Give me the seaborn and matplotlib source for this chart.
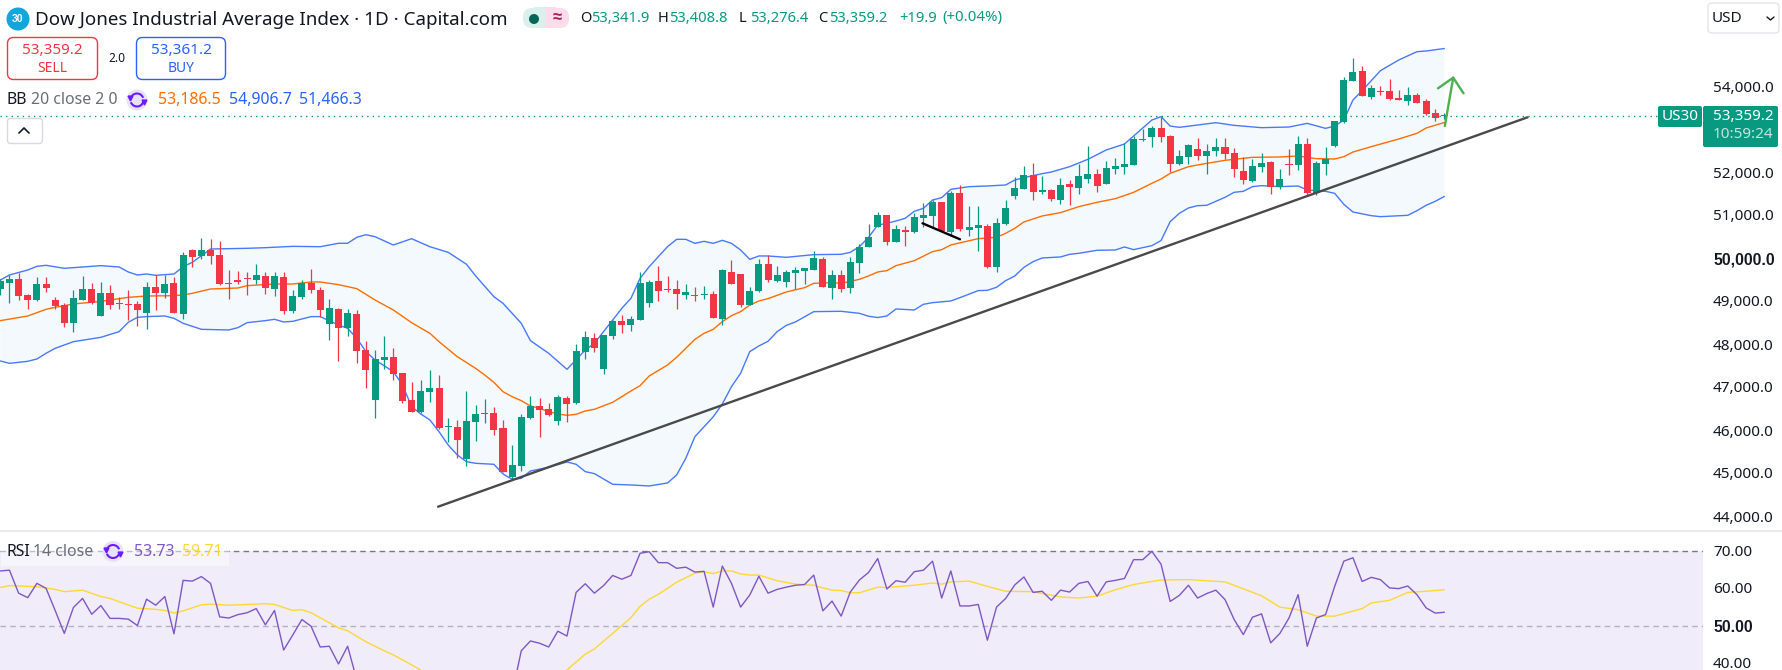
import numpy as np
import matplotlib
matplotlib.use("Agg")
import matplotlib.pyplot as plt
from matplotlib.patches import Circle, FancyBboxPatch, Rectangle, Arc
import seaborn as sns

# daily bars, values
opens = [49314, 49454, 49547, 49175, 49058, 49430, 49058, 48942, 48523, 49058,
         49314, 48686, 49221, 48989, 48965, 48965, 48756, 49361, 49221, 49454,
         48733, 50221, 50082, 50221, 50105, 49454, 49523, 49570, 49523, 49617,
         49314, 49593, 48803, 49128, 49454, 49291, 48500, 48849, 48407, 48733,
         47896, 46733, 47663, 47733, 47360, 46733, 46454, 46919, 47012, 46112,
         46105, 45360, 46221, 46415, 46430, 46081, 44942, 45198, 46314, 46593,
         46523, 46244, 46779, 46663, 47849, 48175, 47454, 48221, 48570, 48477,
         48593, 48989, 49500, 49314, 49314, 49175, 49175, 49175, 49198, 48617,
         49710, 49663, 48942, 49268, 49896, 49500, 49477, 49686, 49733, 49756,
         50012, 49338, 49640, 49338, 49919, 50291, 50756, 51035, 50407, 50686,
         50640, 50966, 51012, 51338, 50640, 51547, 50686, 50733, 50780, 49826,
         50826, 51477, 51640, 51966, 51570, 51617, 51384, 51756, 51663, 51873,
         51989, 51756, 52105, 52152, 52198, 52779, 52856, 53058, 52872, 52221,
         52384, 52570, 52407, 52523, 52616, 52477, 52058, 51825, 52151, 52267,
         51686, 52221, 52198, 52686, 51546, 52221, 52639, 53198, 54151, 54384,
         53779, 53918, 53918, 53748, 53686, 53825, 53686, 53407, 53342]
highs = [49540, 49632, 49694, 49198, 49586, 49586, 49120, 48981, 49291, 49617,
         49454, 49477, 49407, 49120, 49291, 49035, 49477, 49640, 49640, 49593,
         50175, 50244, 50500, 50477, 50430, 49756, 49733, 49710, 49896, 49710,
         49710, 49710, 49291, 49523, 49780, 49361, 49082, 48872, 48849, 48826,
         48105, 47896, 48221, 47942, 47360, 47151, 47198, 47430, 47314, 46314,
         46268, 46942, 46616, 46756, 46570, 46268, 45686, 46407, 46826, 46779,
         46663, 46849, 46826, 48035, 48337, 48291, 48245, 48593, 48710, 48686,
         49710, 49524, 49849, 49617, 49524, 49431, 49361, 49384, 49268, 49779,
         49989, 49663, 49361, 50012, 50105, 49849, 49756, 49826, 49803, 50198,
         50059, 49756, 49756, 50059, 50361, 50826, 51105, 51035, 50803, 50780,
         51082, 51314, 51384, 51338, 51594, 51733, 51245, 51245, 50826, 50966,
         51384, 51919, 52175, 52245, 51942, 51640, 51896, 51849, 52221, 52640,
         52105, 52291, 52361, 52702, 52873, 53028, 53105, 53322, 52895, 52546,
         52686, 52825, 52686, 52825, 52825, 52593, 52384, 52337, 52477, 52291,
         52105, 52570, 52872, 52825, 52291, 52616, 53221, 54244, 54686, 54500,
         54058, 54035, 54198, 53942, 54012, 53872, 53732, 53500, 53409]
lows = [49175, 48996, 49058, 48849, 49035, 49244, 48849, 48430, 48314, 49058,
        48965, 48686, 48849, 48849, 48593, 48454, 48384, 48826, 49105, 48756,
        48616, 49826, 50012, 49896, 49407, 49082, 49430, 49175, 49430, 49198,
        49151, 48733, 48756, 49082, 49221, 48663, 48128, 47640, 48221, 47593,
        47012, 46314, 47454, 47198, 46663, 46454, 46430, 46686, 46058, 45756,
        45384, 45198, 45779, 46198, 45919, 45058, 44895, 45081, 46291, 45872,
        46360, 46151, 46221, 46640, 47686, 47849, 47338, 48151, 48291, 48338,
        48593, 48896, 49035, 49245, 48849, 49082, 49035, 49082, 48640, 48477,
        49431, 48896, 48942, 49245, 49477, 49477, 49361, 49314, 49431, 49756,
        49361, 49082, 49245, 49221, 49686, 50291, 50756, 50338, 50407, 50314,
        50617, 50756, 50756, 50663, 50570, 50663, 50547, 50198, 49803, 49710,
        50803, 51407, 51640, 51384, 51524, 51361, 51291, 51268, 51524, 51780,
        51570, 51756, 51989, 51989, 52198, 52763, 52623, 52732, 52035, 52198,
        52221, 52314, 51988, 52407, 52337, 51918, 51756, 51802, 52035, 51523,
        51639, 51965, 52081, 51477, 51500, 51965, 52616, 53174, 54151, 53802,
        53732, 53825, 53709, 53717, 53593, 53639, 53360, 53221, 53276]
closes = [49500, 49547, 49151, 49058, 49430, 49337, 48919, 48523, 49105, 49314,
          48989, 49221, 48942, 48973, 48950, 48826, 49361, 49221, 49430, 48756,
          50105, 50058, 50221, 50082, 49430, 49438, 49477, 49555, 49640, 49337,
          49617, 48803, 49151, 49454, 49291, 48826, 48872, 48407, 48756, 47872,
          47430, 47686, 47733, 47337, 46709, 46454, 46942, 47012, 46081, 46128,
          45802, 46244, 46407, 46430, 46035, 45058, 45221, 46337, 46593, 46500,
          46384, 46802, 46640, 47872, 48198, 47942, 48245, 48570, 48477, 48617,
          49454, 49477, 49268, 49299, 49198, 49245, 49151, 49198, 48640, 49756,
          49431, 48942, 49268, 49896, 49524, 49640, 49710, 49756, 49803, 50035,
          49361, 49640, 49314, 49942, 50291, 50524, 51035, 50407, 50710, 50640,
          50989, 51035, 51338, 50663, 51547, 50710, 50756, 50803, 49826, 50849,
          51198, 51663, 51966, 51570, 51617, 51407, 51733, 51687, 51942, 51989,
          51710, 52128, 52175, 52221, 52795, 52795, 53058, 52849, 52221, 52407,
          52663, 52407, 52523, 52616, 52453, 52105, 51849, 52174, 52244, 51686,
          51872, 52205, 52686, 51546, 52244, 52337, 53221, 54174, 54360, 53802,
          53988, 53903, 53732, 53717, 53825, 53639, 53384, 53291, 53359]

# bollinger bands, bar number and value at each corner of the line
upper_idx = [0, 1, 3, 4, 5, 7, 9, 11, 13, 14, 15, 16, 17, 19, 20, 21, 22, 23, 25, 27, 29, 32, 35, 37, 38, 39, 40, 41,
             43, 45, 47, 49, 51, 52, 54, 55, 57, 58, 60, 62, 64, 65, 67, 68, 69, 70, 71, 73, 74, 75, 76, 77, 78, 79,
             80, 81, 82, 83, 84, 86, 89, 92, 93, 94, 95, 96, 97, 98, 99, 100, 101, 102, 103, 104, 106, 108, 110, 111,
             112, 114, 115, 117, 119, 121, 123, 124, 126, 127, 128, 129, 133, 135, 138, 141, 143, 145, 146, 147, 148,
             149, 151, 153, 155, 156, 158]
upper_val = [49523, 49640, 49756, 49841, 49865, 49795, 49826, 49857, 49826, 49710, 49640, 49663, 49632, 49663, 49833,
             49934, 50089, 50244, 50252, 50260, 50275, 50306, 50298, 50377, 50377, 50516, 50577, 50530, 50337, 50484,
             50298, 50167, 49890, 49620, 49136, 48981, 48516, 48113, 47818, 47446, 47896, 48051, 48593, 48865, 49097,
             49562, 49834, 50299, 50469, 50469, 50376, 50423, 50376, 50446, 50376, 50221, 50004, 50082, 50082, 50051,
             50113, 50121, 50167, 50299, 50516, 50803, 50841, 50896, 50958, 51121, 51190, 51384, 51438, 51632, 51694,
             51710, 51733, 51849, 51903, 51997, 52035, 52159, 52330, 52547, 52686, 52872, 53244, 53322, 53104, 53074,
             53182, 53120, 53066, 53081, 53166, 53050, 53104, 53244, 53709, 53926, 54391, 54639, 54833, 54849, 54906.7]
lower_idx = [0, 1, 3, 4, 5, 6, 8, 11, 13, 14, 15, 16, 18, 19, 20, 22, 25, 26, 27, 29, 30, 31, 32, 34, 35, 37, 38, 39,
             40, 41, 43, 44, 45, 46, 47, 48, 49, 50, 51, 52, 54, 55, 56, 57, 58, 60, 62, 63, 64, 65, 67, 69, 71, 73,
             74, 75, 76, 78, 79, 80, 81, 82, 83, 84, 85, 86, 87, 89, 92, 94, 95, 96, 97, 98, 100, 101, 102, 104, 105,
             107, 108, 109, 110, 111, 112, 113, 114, 116, 117, 118, 120, 122, 123, 124, 126, 127, 128, 129, 130, 131,
             132, 134, 135, 136, 137, 138, 140, 142, 143, 145, 146, 147, 148, 150, 151, 154, 155, 156, 157, 158]
lower_val = [47640, 47585, 47632, 47686, 47818, 47934, 48089, 48190, 48322, 48539, 48655, 48671, 48686, 48632, 48516,
             48376, 48361, 48415, 48531, 48578, 48609, 48547, 48562, 48671, 48671, 48477, 48399, 48167, 47857, 47663,
             47392, 47082, 46578, 46407, 46268, 45996, 45686, 45454, 45298, 45260, 45237, 45012, 44888, 44911, 45081,
             45167, 45291, 45237, 45066, 45020, 44772, 44756, 44733, 44802, 44988, 45376, 45880, 46340, 46640, 47043,
             47353, 47857, 47989, 48097, 48322, 48469, 48547, 48787, 48795, 48748, 48680, 48650, 48686, 48849, 48826,
             48958, 48996, 49035, 49113, 49276, 49283, 49353, 49508, 49617, 49818, 49950, 50035, 50059, 50120, 50144,
             50214, 50221, 50291, 50229, 50322, 50440, 50880, 51073, 51198, 51252, 51260, 51446, 51562, 51585, 51694,
             51717, 51694, 51709, 51616, 51585, 51539, 51283, 51104, 51019, 50996, 51027, 51135, 51260, 51353, 51466.3]
basis_idx = [0, 3, 5, 6, 8, 11, 14, 16, 19, 20, 21, 23, 26, 27, 30, 32, 34, 35, 37, 39, 41, 43, 45, 47, 48, 50, 52, 53,
             54, 55, 56, 57, 58, 59, 60, 61, 62, 63, 64, 65, 67, 68, 69, 70, 71, 73, 74, 75, 76, 77, 78, 79, 80, 81,
             82, 83, 84, 85, 86, 88, 89, 91, 92, 94, 95, 96, 97, 98, 100, 102, 103, 104, 107, 109, 110, 111, 112, 114,
             116, 118, 120, 122, 124, 126, 127, 128, 130, 132, 134, 137, 140, 142, 144, 146, 147, 148, 150, 153, 155,
             156, 158]
basis_val = [48578, 48686, 48841, 48888, 48965, 49027, 49120, 49151, 49159, 49175, 49213, 49314, 49337, 49391, 49430,
             49430, 49477, 49477, 49415, 49322, 49058, 48826, 48531, 48283, 48089, 47740, 47469, 47314, 47143, 46926,
             46810, 46717, 46593, 46539, 46461, 46407, 46376, 46399, 46477, 46516, 46679, 46810, 46942, 47066, 47291,
             47547, 47725, 47935, 48144, 48283, 48376, 48555, 48694, 48787, 48942, 49035, 49090, 49167, 49245, 49345,
             49446, 49462, 49446, 49539, 49617, 49710, 49741, 49857, 49973, 50183, 50229, 50338, 50485, 50516, 50609,
             50725, 50873, 51012, 51090, 51229, 51330, 51415, 51562, 51772, 51872, 52004, 52159, 52236, 52306, 52376,
             52384, 52407, 52345, 52337, 52391, 52500, 52624, 52802, 52934, 53058, 53186.5]

# rsi for every bar, its moving average at the corners
rsi_val = [64.7, 64.9, 58.8, 57.6, 61.4, 60.1, 54.2, 48.1, 55.0, 57.4,
           53.2, 55.5, 52.1, 52.1, 51.9, 50.2, 57.2, 55.6, 57.9, 48.0,
           62.2, 62.0, 63.2, 61.4, 52.5, 52.2, 53.1, 53.6, 54.7, 50.4,
           54.2, 43.7, 47.7, 51.8, 50.0, 44.5, 44.7, 40.0, 44.7, 35.8,
           33, 30, 33, 29, 27, 26, 28, 29, 26, 28,
           27, 31, 32, 33, 31, 27, 32.1, 43.5, 46.1, 45.5,
           44.5, 48.7, 47.4, 59.0, 61.3, 58.8, 60.8, 63.5, 62.5, 63.5,
           69.4, 69.8, 66.9, 66.9, 65.4, 65.7, 64.4, 64.6, 55.1, 66.0,
           61.4, 55.1, 58.3, 63.3, 58.8, 59.8, 60.4, 60.9, 61.1, 63.6,
           54.1, 56.7, 52.7, 59.1, 62.3, 64.3, 68.0, 59.9, 62.1, 61.7,
           64.5, 64.9, 67.3, 57.5, 64.7, 55.4, 55.4, 55.8, 46.3, 55.1,
           57.4, 61.0, 63.1, 59.0, 59.3, 56.9, 59.6, 59.1, 61.4, 61.9,
           58.0, 61.8, 62.2, 62.7, 67.7, 67.7, 69.9, 66.5, 56.6, 58.2,
           60.9, 57.5, 58.7, 59.6, 57.1, 51.8, 47.8, 52.4, 53.3, 45.6,
           48.1, 52.2, 58.4, 44.7, 52.2, 53.1, 60.6, 67.3, 68.2, 61.9,
           63.0, 62.4, 60.2, 60.0, 60.7, 58.4, 54.9, 53.5, 53.73]
rsi_ma_idx = [0, 1, 4, 6, 7, 9, 11, 12, 15, 17, 18, 19, 20, 22, 23, 25, 27, 28, 29, 30, 32, 33, 34, 37, 38, 40, 42, 43,
              44, 46, 50, 56, 62, 64, 65, 67, 69, 70, 71, 72, 74, 76, 77, 78, 79, 80, 81, 82, 83, 85, 87, 89, 90, 91,
              92, 93, 94, 96, 97, 100, 102, 103, 104, 106, 108, 110, 113, 116, 118, 120, 122, 124, 127, 130, 134, 138,
              140, 142, 144, 146, 149, 150, 152, 154, 156, 158]
rsi_ma_val = [60.3, 60.8, 60.5, 59.8, 59.2, 59.6, 57.9, 57.4, 54.8, 54.5, 54.2, 53.5, 54.1, 55.7, 55.9, 55.6, 55.8,
              55.9, 56.0, 55.8, 54.2, 54.4, 53.6, 49.6, 48.8, 45.9, 43.5, 42.4, 41.1, 38.4, 33, 33, 38.4, 42.6, 44.0,
              48.1, 52.3, 55.3, 57.2, 58.5, 61.7, 64.1, 64.5, 64.0, 64.7, 64.7, 63.9, 63.6, 63.6, 62.1, 61.2, 60.9,
              60.2, 59.6, 59.5, 58.9, 58.9, 60.4, 60.3, 60.9, 61.5, 61.2, 61.8, 62.0, 60.6, 59.3, 59.2, 57.8, 57.5,
              58.0, 59.7, 61.1, 62.3, 62.4, 61.8, 58.1, 55.1, 54.4, 52.7, 52.7, 54.7, 56.2, 56.9, 59.0, 59.3, 59.71]

# drawings on the chart (bar number, price)
trend_x = [47.9, 167.1]
trend_y = [44251, 53307]
short_x = [100.9, 105.0]
short_y = [50842, 50470]
arrow_x = [158.05, 158.97]
arrow_y = [53105, 54228]
head_x = [157.3, 158.97, 160.1]
head_y = [53981, 54228, 53865]
price_line = 53335

price_ticks = [54000, 52000, 51000, 50000, 49000, 48000, 47000, 46000, 45000, 44000]
rsi_ticks = [70, 60, 50, 40]

GREEN = "#089981"
RED = "#F23645"
BLUE = "#2962FF"
ORANGE = "#FF6D00"
TEXT = "#131722"
GREY = "#6A6D78"
UI_FONT = "Noto Sans"

sns.set_theme(style="white")
plt.rcParams["font.family"] = [UI_FONT, "DejaVu Sans"]

W, H = 1782, 670
PANE_R = 1703
DIVIDER = 530
fig = plt.figure(figsize=(W / 100, H / 100), dpi=100, facecolor="white")
ax = fig.add_axes([0, (H - DIVIDER) / H, PANE_R / W, DIVIDER / H])
ax_rsi = fig.add_axes([0, 0, PANE_R / W, (H - DIVIDER - 1) / H])
ui = fig.add_axes([0, 0, 1, 1], zorder=10)
ui.set_xlim(0, W)
ui.set_ylim(H, 0)
ui.axis("off")
ui.patch.set_alpha(0)

bar_x = np.arange(len(closes))
xlim = (-0.036, 186.3)

# price pane
o, h, l, c = map(np.array, (opens, highs, lows, closes))
up = c >= o
ax.fill(upper_idx + lower_idx[::-1], upper_val + lower_val[::-1], color="#F4F9FE", lw=0, zorder=1)
sns.lineplot(x=upper_idx, y=upper_val, ax=ax, color=BLUE, lw=1.0, alpha=0.85, estimator=None, sort=False, zorder=2)
sns.lineplot(x=lower_idx, y=lower_val, ax=ax, color=BLUE, lw=1.0, alpha=0.85, estimator=None, sort=False, zorder=2)
sns.lineplot(x=basis_idx, y=basis_val, ax=ax, color=ORANGE, lw=1.0, estimator=None, sort=False, zorder=2)

colors = np.where(up, GREEN, RED)
ax.vlines(bar_x, l, h, colors=colors, lw=0.9, zorder=3)
body_h = np.maximum(np.abs(c - o), 24)
ax.bar(bar_x, body_h, bottom=np.minimum(o, c), width=0.77, color=colors, lw=0, zorder=3)

ax.axhline(price_line, color=GREEN, lw=1, ls=(0, (1, 3)), zorder=4)
sns.lineplot(x=trend_x, y=trend_y, ax=ax, color="#4A4A4A", lw=1.7, estimator=None, sort=False, zorder=5)
sns.lineplot(x=short_x, y=short_y, ax=ax, color="black", lw=1.7, estimator=None, sort=False, zorder=5)
sns.lineplot(x=arrow_x, y=arrow_y, ax=ax, color="#4CAF50", lw=1.7, estimator=None, sort=False, zorder=5)
sns.lineplot(x=head_x, y=head_y, ax=ax, color="#4CAF50", lw=1.7, estimator=None, sort=False, zorder=5)
ax.set_xlim(*xlim)
ax.set_ylim(43709, 56035)
ax.axis("off")

# rsi pane
ax_rsi.axhspan(30, 70, color="#F0ECF9", lw=0, zorder=0)
ax_rsi.axhline(70, color="#787B86", lw=1, ls=(0, (4, 3)), zorder=1)
ax_rsi.axhline(50, color="#B5B0C0", lw=1, ls=(0, (4, 3)), zorder=1)
sns.lineplot(x=rsi_ma_idx, y=rsi_ma_val, ax=ax_rsi, color="#FDD835", lw=1.0, estimator=None, sort=False, zorder=2)
sns.lineplot(x=bar_x, y=rsi_val, ax=ax_rsi, color="#7E57C2", lw=1.0, estimator=None, sort=False, zorder=3)
ax_rsi.set_xlim(*xlim)
ax_rsi.set_ylim(38.39, 75.31)
ax_rsi.axis("off")


def y_price(p):
    return 259.5 - (p - 50000) * 0.043


def y_rsi(v):
    return 626.3 - (v - 50) * 3.765


def label(x, y, s, color=TEXT, size=10, ha="left", bold=False):
    ui.text(x, y, s, color=color, fontsize=size, ha=ha, va="center",
            family="Liberation Sans" if bold else UI_FONT, fontweight="bold" if bold else "normal")


def refresh_icon(x, y):
    ui.add_patch(Circle((x, y), 10.5, color="#E8E2F6", lw=0))
    ui.add_patch(Arc((x, y), 13, 13, theta1=200, theta2=340, color="#6A1BFF", lw=1.5))
    ui.add_patch(Arc((x, y), 13, 13, theta1=20, theta2=160, color="#6A1BFF", lw=1.5))
    ui.plot([x - 7, x + 7], [y - 2, y + 2], ls="", marker="v", ms=3.5, color="#6A1BFF")


# header
ui.add_patch(Circle((18, 19), 11.5, color="#12A6DC", lw=0))
label(18, 19, "30", "white", 7.5, "center", True)
label(35, 20, "Dow Jones Industrial Average Index · 1D · Capital.com", TEXT, 13.5)
ui.add_patch(FancyBboxPatch((523, 8), 22, 20, boxstyle="round,pad=0,rounding_size=9", color="#D9F0EC", lw=0))
ui.add_patch(FancyBboxPatch((547, 8), 22, 20, boxstyle="round,pad=0,rounding_size=9", color="#FBDCE8", lw=0))
ui.add_patch(Rectangle((534, 7), 11, 21, color="#D9F0EC", lw=0))
ui.add_patch(Rectangle((545, 7), 11, 21, color="#FBDCE8", lw=0))
ui.add_patch(Circle((534, 19), 5, color="#056656", lw=0))
label(557, 18, "≈", "#B0155F", 12, "center", True)

x = 580
for tag, val, gap in [("O", "53,341.9", 78), ("H", "53,408.8", 81), ("L", "53,276.4", 79), ("C", "53,359.2", 81)]:
    label(x, 18, tag, TEXT, 10.6)
    label(x + 11, 18, val, GREEN, 10.6)
    x += gap
label(x, 18, "+19.9", GREEN, 10.6)
label(x + 43, 18, "(+0.04%)", GREEN, 10.8)

# sell / buy boxes
ui.add_patch(FancyBboxPatch((7.5, 37.5), 90, 42, boxstyle="round,pad=0,rounding_size=6", fc="white", ec=RED, lw=1))
ui.add_patch(FancyBboxPatch((136.5, 37.5), 89, 42, boxstyle="round,pad=0,rounding_size=6", fc="white", ec=BLUE, lw=1))
label(52.5, 50, "53,359.2", RED, 11, "center")
label(52.5, 68, "SELL", RED, 10, "center")
label(117, 58, "2.0", TEXT, 8.6, "center")
label(181, 50, "53,361.2", BLUE, 11, "center")
label(181, 68, "BUY", BLUE, 10, "center")

# indicator legend
label(7, 100, "BB", TEXT, 11.4)
label(31, 100, "20 close 2 0", GREY, 11.4)
refresh_icon(137, 100)
label(158, 100, "53,186.5", ORANGE, 11.4)
label(229, 100, "54,906.7", BLUE, 11.4)
label(299, 100, "51,466.3", BLUE, 11.4)
ui.add_patch(FancyBboxPatch((7.5, 118.5), 35, 25, boxstyle="round,pad=0,rounding_size=3", fc="white", ec="#D8DAE0", lw=1))
ui.plot([19, 24, 29], [133, 128, 133], color=TEXT, lw=1.2)

# rsi legend
ui.add_patch(Rectangle((1, 538), 228, 28, color="white", alpha=0.5, lw=0))
label(7, 552, "RSI", TEXT, 11.4)
label(33, 552, "14 close", GREY, 11.4)
refresh_icon(113, 551.5)
label(134, 552, "53.73", "#7E57C2", 11.4)
label(182, 552, "59.71", "#FDD835", 11.4)

ui.plot([0, W], [DIVIDER + 0.5, DIVIDER + 0.5], color="#E4E6EB", lw=1.2)

# scales on the right
for t in price_ticks:
    if t == 50000:
        label(1713, y_price(t) + 0.5, f"{t:,.1f}", TEXT, 11.4, bold=True)
    else:
        label(1713, y_price(t) + 0.5, f"{t:,.1f}", TEXT, 11)
for t in rsi_ticks:
    if t == 50:
        label(1713, y_rsi(t) + 1, f"{t:.2f}", TEXT, 11.4, bold=True)
    else:
        label(1713, y_rsi(t) + 1, f"{t:.2f}", TEXT, 11)

ui.add_patch(FancyBboxPatch((1658, 106), 44, 21, boxstyle="round,pad=0,rounding_size=2", color=GREEN, lw=0))
ui.add_patch(FancyBboxPatch((1703, 106), 75, 41, boxstyle="round,pad=0,rounding_size=2", color=GREEN, lw=0))
label(1680, 116.5, "US30", "white", 11, "center")
label(1713, 116, "53,359.2", "white", 11)
label(1713, 134, "10:59:24", "#BFE6DF", 11)

ui.add_patch(FancyBboxPatch((1708, 3), 71, 30, boxstyle="round,pad=0,rounding_size=4", fc="white", ec="#E4E6EB", lw=1))
label(1712, 18.5, "USD", TEXT, 11)
ui.plot([1767, 1770.5, 1774], [17, 20, 17], color=TEXT, lw=1)

fig.savefig("out.png", dpi=100)
